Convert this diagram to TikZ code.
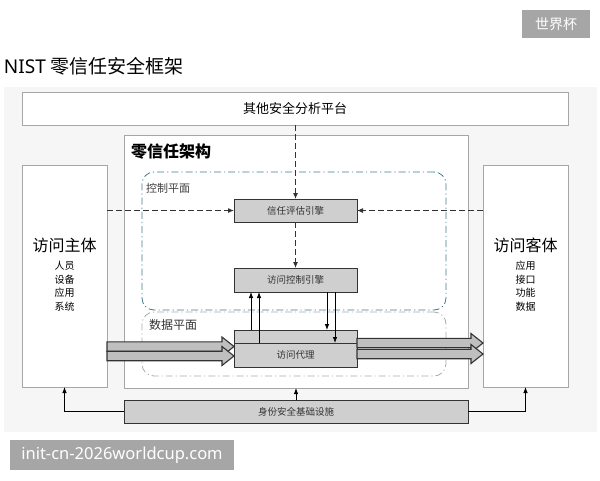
\documentclass[tikz,border=0pt]{standalone}
\usepackage{fontspec}
\setmainfont{Noto Sans CJK SC}
\newfontfamily\latinf{Noto Sans}
\usetikzlibrary{arrows.meta,calc}
\definecolor{boxgray}{HTML}{CFCFCF}
\definecolor{edgegray}{HTML}{333333}
\definecolor{cpcol}{HTML}{3F7F90}
\definecolor{dpcol}{HTML}{AAAAAA}
\definecolor{wmgray}{HTML}{A6A6A6}
\newcommand{\fs}[1]{\fontsize{#1}{#1}\selectfont}
\newcommand{\blkarrow}[2]{\draw[blk] let \p1=#1, \p2=#2 in
  (\x1,\y1+4.7pt) -- (\x2-12pt,\y1+4.7pt) -- (\x2-12pt,\y1+9.5pt) -- (\x2,\y1)
  -- (\x2-12pt,\y1-9.5pt) -- (\x2-12pt,\y1-4.7pt) -- (\x1,\y1-4.7pt) -- cycle;}
\begin{document}
\begin{tikzpicture}[x=1pt,y=-1pt,
  every node/.style={inner sep=0pt, outer sep=0pt},
  wbox/.style={draw=gray!70, fill=white, line width=0.6pt, rectangle},
  gbox/.style={draw=edgegray, fill=boxgray, line width=1pt, rectangle, font=\fs{9.5}, text=black!80},
  plane/.style={rectangle, rounded corners=12pt, line width=0.8pt, dash pattern=on 7pt off 3pt on 1.2pt off 3pt},
  dsh/.style={draw=edgegray, line width=1.1pt, dash pattern=on 6pt off 3pt, -{Latex[length=6pt,width=5pt]}},
  sol/.style={draw=black, line width=0.8pt, -{Latex[length=6pt,width=4.5pt]}},
  blk/.style={draw=edgegray, fill=gray!50, line width=1.1pt, line join=miter},
  wm/.style={fill=wmgray, text=white}]
\useasboundingbox (0,0) rectangle (600,480);
\fill[white] (0,0) rectangle (600,480);
% watermarks
\node[wm, minimum width=68, minimum height=28, font=\fs{14}] (wm1) at (556,24) {世界杯};
% title
\node[anchor=west, font=\fs{19}] (title) at (4,66) {{\latinf NIST} 零信任安全框架};
% background panel
\fill[gray!7] (4,87) rectangle (597,432);
% boxes
\node[wbox, minimum width=546, minimum height=33, font=\fs{13}] (top) at (295,108.5) {其他安全分析平台};
\node[wbox, minimum width=344, minimum height=253] (zt) at (296,261.5) {};
\node[anchor=west, font=\fs{16}\bfseries] (ztl) at (131,152) {零信任架构};
\node[wbox, minimum width=85, minimum height=222] (subj) at (64.5,276) {};
\node[font=\fs{16}] (subjt) at (64.5,245) {访问主体};
\node[font=\fs{10}, align=center] (subji) at (64.5,286) {人员\\[3.5pt]设备\\[3.5pt]应用\\[3.5pt]系统};
\node[wbox, minimum width=85, minimum height=222] (obj) at (525.5,276) {};
\node[font=\fs{16}] (objt) at (525.5,245) {访问客体};
\node[font=\fs{10}, align=center] (obji) at (525.5,286) {应用\\[3.5pt]接口\\[3.5pt]功能\\[3.5pt]数据};
% planes
\node[plane, draw=cpcol, minimum width=304, minimum height=138] (cp) at (294,241) {};
\node[anchor=west, font=\fs{11}, text=black!75] (cpl) at (146,188) {控制平面};
\node[plane, draw=dpcol, minimum width=304, minimum height=64] (dp) at (294,344) {};
\node[anchor=west, font=\fs{12}, text=black!80] (dpl) at (149,325) {数据平面};
% engines
\node[gbox, minimum width=123, minimum height=23] (ev) at (295.5,210.5) {信任评估引擎};
\node[gbox, minimum width=123, minimum height=24] (ace) at (295.5,280) {访问控制引擎};
\node[gbox, minimum width=123, minimum height=13] (pxtop) at (295.5,336.5) {};
\node[gbox, minimum width=123, minimum height=24] (px) at (295.5,355) {访问代理};
\node[gbox, minimum width=344, minimum height=23] (id) at (296,411.5) {身份安全基础设施};
% dashed arrows
\draw[dsh] (ev.north |- top.south) -- (ev.north);
\draw[dsh] (subj.east |- ev.west) -- (ev.west);
\draw[dsh] (obj.west |- ev.east) -- (ev.east);
\draw[dsh] (ev.south) -- (ace.north);
% solid arrows between proxy and engine
\draw[sol] (pxtop.north -| 251,0) -- (ace.south -| 251,0);
\draw[sol] (px.north -| 259,0) -- (ace.south -| 259,0);
\draw[sol] (ace.south -| 327,0) -- (pxtop.north -| 327,0);
\draw[sol] (ace.south -| 335,0) -- (px.north -| 335,0);
% block arrows
\coordinate (la1) at (subj.east |- 0,346.5);
\coordinate (la2) at (subj.east |- 0,356);
\coordinate (ra1) at (px.east |- 0,343);
\coordinate (ra2) at (px.east |- 0,354);
\blkarrow{(la1)}{(px.west |- la1)}
\blkarrow{(la2)}{(px.west |- la2)}
\blkarrow{(ra1)}{(obj.west |- ra1)}
\blkarrow{(ra2)}{(obj.west |- ra2)}
% identity links
\draw[sol] (id.west) -| (subj.south);
\draw[sol] (id.east) -| (obj.south);
\draw[sol] (id.north) -- (zt.south);
% bottom watermark
\node[wm, minimum width=224, minimum height=30, font=\latinf\fs{16.5}] (wm2) at (122,455) {init-cn-2026worldcup.com};
\end{tikzpicture}
\end{document}
